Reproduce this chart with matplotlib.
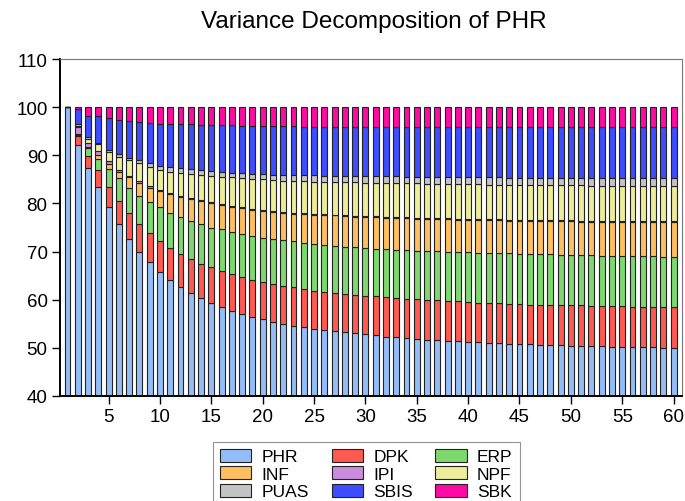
import numpy as np
import matplotlib
matplotlib.use("Agg")
import matplotlib.pyplot as plt

plt.rcParams["font.family"] = ["Liberation Sans", "DejaVu Sans"]

periods = list(range(1, 61))
series = ["PHR", "DPK", "ERP", "INF", "IPI", "NPF", "PUAS", "SBIS", "SBK"]
colors = ["#94bdf7", "#ff5a52", "#7ed86e", "#ffbf5e", "#c98ddb",
          "#ecec99", "#c4c4c4", "#3d4dff", "#ff0aa5"]

# variance shares (%), one value per period 1..60
phr = [100.0, 92.1, 87.3, 83.4, 79.3, 75.7, 72.6, 70.0, 67.8, 65.7,
       64.0, 62.6, 61.4, 60.3, 59.3, 58.5, 57.7, 57.0, 56.5, 56.0,
       55.4, 55.0, 54.6, 54.3, 54.0, 53.7, 53.4, 53.2, 53.0, 52.8,
       52.6, 52.3, 52.2, 52.1, 51.9, 51.7, 51.6, 51.4, 51.4, 51.2,
       51.2, 51.0, 51.0, 50.9, 50.8, 50.7, 50.6, 50.6, 50.5, 50.4,
       50.4, 50.3, 50.3, 50.2, 50.2, 50.1, 50.1, 50.1, 50.0, 50.0]
dpk = [0.0, 1.9, 2.6, 3.5, 4.1, 4.9, 5.4, 5.7, 6.0, 6.4,
       6.7, 6.9, 7.0, 7.1, 7.4, 7.4, 7.6, 7.8, 7.6, 7.7,
       7.8, 7.9, 8.0, 7.9, 7.9, 8.0, 8.0, 8.0, 8.0, 8.0,
       8.1, 8.2, 8.1, 8.1, 8.2, 8.2, 8.3, 8.3, 8.3, 8.3,
       8.2, 8.3, 8.3, 8.3, 8.3, 8.3, 8.4, 8.4, 8.4, 8.4,
       8.4, 8.4, 8.4, 8.4, 8.4, 8.4, 8.4, 8.3, 8.4, 8.4]
erp = [0.0, 0.2, 1.7, 2.3, 3.7, 4.6, 5.3, 5.9, 6.5, 7.1,
       7.4, 7.6, 8.0, 8.3, 8.3, 8.7, 8.7, 8.9, 9.1, 9.1,
       9.4, 9.4, 9.5, 9.6, 9.7, 9.7, 9.8, 9.8, 9.9, 10.0,
       9.9, 10.0, 10.1, 10.1, 10.1, 10.2, 10.2, 10.3, 10.2, 10.4,
       10.4, 10.4, 10.4, 10.4, 10.4, 10.4, 10.4, 10.4, 10.4, 10.4,
       10.4, 10.5, 10.4, 10.5, 10.4, 10.5, 10.5, 10.6, 10.5, 10.5]
inf = [0.0, 0.2, 0.1, 0.8, 1.0, 1.4, 2.1, 2.7, 3.0, 3.4,
       3.8, 4.3, 4.5, 4.8, 5.1, 5.1, 5.3, 5.3, 5.5, 5.6,
       5.7, 5.8, 5.8, 6.0, 6.1, 6.2, 6.3, 6.4, 6.3, 6.4,
       6.5, 6.5, 6.6, 6.6, 6.6, 6.7, 6.6, 6.7, 6.7, 6.7,
       6.8, 6.8, 6.8, 6.8, 6.9, 7.0, 7.0, 6.9, 7.0, 7.1,
       7.0, 7.0, 7.1, 7.0, 7.1, 7.1, 7.1, 7.1, 7.2, 7.2]
ipi = [0.0, 1.5, 0.9, 0.9, 0.7, 0.4, 0.3, 0.4, 0.3, 0.2,
       0.2, 0.2, 0.2, 0.2, 0.2, 0.2, 0.2, 0.2, 0.2, 0.2,
       0.2, 0.2, 0.2, 0.2, 0.2, 0.2, 0.2, 0.2, 0.2, 0.2,
       0.2, 0.2, 0.2, 0.2, 0.2, 0.2, 0.2, 0.2, 0.2, 0.2,
       0.2, 0.2, 0.2, 0.2, 0.2, 0.2, 0.2, 0.2, 0.2, 0.2,
       0.2, 0.2, 0.2, 0.2, 0.2, 0.2, 0.2, 0.2, 0.2, 0.2]
npf = [0.0, 0.1, 0.7, 1.4, 1.8, 2.7, 3.3, 3.6, 4.0, 4.1,
       4.5, 4.8, 5.0, 5.2, 5.4, 5.6, 5.9, 6.0, 6.1, 6.4,
       6.3, 6.4, 6.5, 6.6, 6.6, 6.7, 6.7, 6.8, 7.0, 6.9,
       7.0, 7.1, 7.0, 7.1, 7.2, 7.1, 7.2, 7.2, 7.3, 7.2,
       7.2, 7.2, 7.2, 7.3, 7.3, 7.2, 7.2, 7.3, 7.3, 7.3,
       7.4, 7.3, 7.3, 7.4, 7.4, 7.4, 7.4, 7.4, 7.4, 7.4]
puas = [0.0, 0.6, 0.5, 0.3, 0.6, 0.6, 0.5, 0.7, 0.7, 0.9,
        1.0, 1.0, 1.0, 1.1, 1.1, 1.1, 1.0, 1.1, 1.2, 1.1,
        1.2, 1.2, 1.3, 1.3, 1.4, 1.3, 1.4, 1.3, 1.3, 1.4,
        1.3, 1.3, 1.4, 1.3, 1.3, 1.4, 1.4, 1.3, 1.3, 1.4,
        1.4, 1.5, 1.5, 1.4, 1.4, 1.5, 1.5, 1.5, 1.5, 1.5,
        1.5, 1.5, 1.5, 1.5, 1.5, 1.5, 1.5, 1.5, 1.5, 1.5]
sbis = [0.0, 3.1, 4.3, 5.5, 6.5, 7.1, 7.6, 7.9, 8.5, 8.8,
        9.0, 9.1, 9.3, 9.3, 9.5, 9.6, 9.8, 9.8, 9.9, 10.0,
        10.0, 10.1, 10.1, 10.0, 10.0, 10.1, 10.1, 10.2, 10.2, 10.2,
        10.3, 10.3, 10.3, 10.4, 10.4, 10.4, 10.4, 10.5, 10.5, 10.5,
        10.5, 10.5, 10.5, 10.6, 10.6, 10.6, 10.6, 10.6, 10.6, 10.6,
        10.6, 10.7, 10.7, 10.7, 10.7, 10.7, 10.7, 10.7, 10.7, 10.7]
sbk = [0.0, 0.3, 1.9, 1.9, 2.3, 2.6, 2.9, 3.1, 3.2, 3.4,
       3.4, 3.5, 3.6, 3.7, 3.7, 3.8, 3.8, 3.9, 3.9, 3.9,
       4.0, 4.0, 4.0, 4.1, 4.1, 4.1, 4.1, 4.1, 4.1, 4.1,
       4.1, 4.1, 4.1, 4.1, 4.1, 4.1, 4.1, 4.1, 4.1, 4.1,
       4.1, 4.1, 4.1, 4.1, 4.1, 4.1, 4.1, 4.1, 4.1, 4.1,
       4.1, 4.1, 4.1, 4.1, 4.1, 4.1, 4.1, 4.1, 4.1, 4.1]

values = [phr, dpk, erp, inf, ipi, npf, puas, sbis, sbk]

fig = plt.figure(figsize=(6.85, 5.02), dpi=100)
ax = fig.add_axes([60 / 685, 1 - 397 / 502, (682 - 60) / 685, (397 - 60) / 502])

x = np.array(periods)
bottom = np.zeros(len(x))
handles = []
for name, vals, col in zip(series, values, colors):
    vals = np.array(vals)
    h = ax.bar(x, vals, bottom=bottom, width=0.58, color=col,
               edgecolor="#222222", linewidth=0.8, label=name)
    handles.append(h)
    bottom += vals

ax.set_xlim(0.27, 60.82)
ax.set_ylim(40, 110)
ax.set_yticks(range(40, 111, 10))
ax.set_xticks(range(5, 61, 5))
ax.tick_params(direction="out", length=6, width=1, labelsize=13.5, pad=3)
for side in ("left", "bottom"):
    ax.spines[side].set_linewidth(1.4)
for side in ("top", "right"):
    ax.spines[side].set_color("#777777")
    ax.spines[side].set_linewidth(0.8)

fig.text(374 / 685, 1 - 22 / 502, "Variance Decomposition of PHR",
         ha="center", va="center", fontsize=17.5)

# legend is filled row-wise in the original; matplotlib fills columns
order = [0, 3, 6, 1, 4, 7, 2, 5, 8]
leg = fig.legend([handles[i] for i in order], [series[i] for i in order],
                 ncol=3, loc="upper left", bbox_to_anchor=(213 / 685, 1 - 443 / 502),
                 fontsize=12.5, frameon=True, fancybox=False, edgecolor="#777777",
                 handlelength=1.8, handleheight=0.75, handletextpad=0.6,
                 columnspacing=1.3, labelspacing=0.12, borderpad=0.4,
                 borderaxespad=0)
leg.get_frame().set_linewidth(0.8)

fig.savefig("out.png", dpi=100)
